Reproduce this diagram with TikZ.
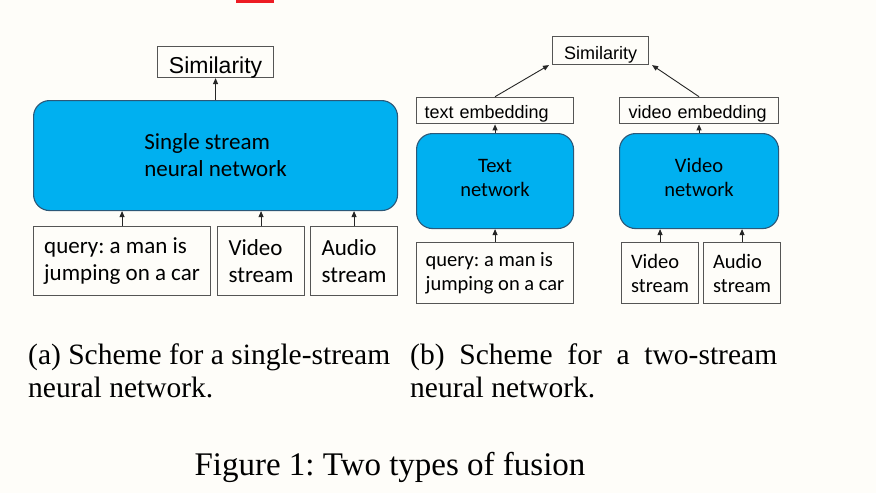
\documentclass[tikz,border=0pt]{standalone}
\usepackage{fontspec}
\setmainfont{Liberation Serif}
\newfontfamily\arialf{Liberation Sans}
\newfontfamily\calf{Carlito}
\usetikzlibrary{arrows.meta}
\definecolor{bg}{RGB}{254,253,249}
\definecolor{nnblue}{RGB}{0,176,240}
\definecolor{nnedge}{RGB}{44,88,120}
\definecolor{boxedge}{RGB}{85,85,85}
\definecolor{redbar}{RGB}{237,28,36}
\frenchspacing
\begin{document}
\begin{tikzpicture}[x=1pt,y=-1pt,
  plain/.style={draw=boxedge, line width=1.1pt, inner sep=0pt, anchor=north west},
  nn/.style={draw=nnedge, line width=1.1pt, fill=nnblue, rounded corners=16pt, inner sep=0pt, anchor=north west},
  arr/.style={draw=black!85, line width=0.9pt, -{Triangle[length=6pt,width=5pt]}},
  calbig/.style={font=\calf\fontsize{23}{27}\selectfont, align=left},
  calsmall/.style={font=\calf\fontsize{20.5}{24}\selectfont, align=left},
  captext/.style={font=\fontsize{29.5}{33}\selectfont, align=left, inner sep=0pt, anchor=base west}
]
\fill[bg] (0,0) rectangle (876,493);
\useasboundingbox (0,0) rectangle (876,493);
\fill[redbar] (236,0) rectangle (274,2.5);

% ---------- left panel ----------
\node[plain, minimum width=116pt, minimum height=31pt, font=\arialf\fontsize{23}{27}\selectfont,
      text height=26.7pt, text depth=4.3pt] (sim1) at (157,46) {Similarity};
\node[nn, calbig, minimum width=364pt, minimum height=110pt] (ss) at (33,100) {Single stream\\neural network};
\node[plain, calbig, minimum width=177pt, minimum height=69pt] (q1) at (33,226) {query: a man is\\jumping on a car};
\node[plain, calbig, minimum width=87pt, minimum height=69pt] (v1) at (217,226) {Video\\stream};
\node[plain, calbig, minimum width=87pt, minimum height=69pt] (a1) at (310,226) {Audio\\stream};

\draw[arr] (q1.north) -- (q1.north |- ss.south);
\draw[arr] (v1.north) -- (v1.north |- ss.south);
\draw[arr] (a1.north) -- (a1.north |- ss.south);
\draw[arr] (ss.north) -- (sim1.south);

% ---------- right panel ----------
\node[plain, minimum width=96pt, minimum height=28pt, font=\arialf\fontsize{18}{22}\selectfont,
      text height=23pt, text depth=5pt] (sim2) at (552,36) {Similarity};
\node[plain, font=\arialf\fontsize{18}{22}\selectfont, text width=141pt, inner xsep=8pt, align=left,
      text height=21.6pt, text depth=5pt] (te) at (416,96.7) {text embedding};
\node[plain, font=\arialf\fontsize{18}{22}\selectfont, text width=141pt, inner xsep=9pt, align=left,
      text height=21.6pt, text depth=5pt] (ve) at (619,96.7) {video embedding};
\node[nn, calsmall, align=center, minimum width=157pt, minimum height=95pt, text depth=7pt] (tn) at (416,133) {Text\\network};
\node[nn, calsmall, align=center, minimum width=159pt, minimum height=95pt, text depth=7pt] (vn) at (619,133) {Video\\network};
\node[plain, calsmall, minimum width=157pt, minimum height=61pt] (q2) at (416,242) {query: a man is\\jumping on a car};
\node[plain, calsmall, minimum width=77pt, minimum height=61pt] (v2) at (621,242) {Video\\stream};
\node[plain, calsmall, minimum width=77pt, minimum height=61pt] (a2) at (703,242) {Audio\\stream};

\draw[arr] (q2.north) -- (q2.north |- tn.south);
\draw[arr] (v2.north) -- (v2.north |- vn.south);
\draw[arr] (a2.north) -- (a2.north |- vn.south);
\draw[arr] (tn.north) -- (te.south);
\draw[arr] (vn.north) -- (ve.south);
\draw[arr] (te.north) -- ([xshift=-3pt]sim2.south west);
\draw[arr] (ve.north) -- ([xshift=3pt]sim2.south east);

% ---------- captions ----------
\node[captext] (capa) at (28,397) {(a) Scheme for a single-stream\\neural network.};
\node[captext] (capb) at (410,397) {\makebox[367pt][s]{(b) Scheme for a two-stream}\\neural network.};
\node[font=\fontsize{33}{40}\selectfont, inner sep=0pt, anchor=base] (fig) at (390,475) {Figure 1: Two types of fusion};
\end{tikzpicture}
\end{document}
